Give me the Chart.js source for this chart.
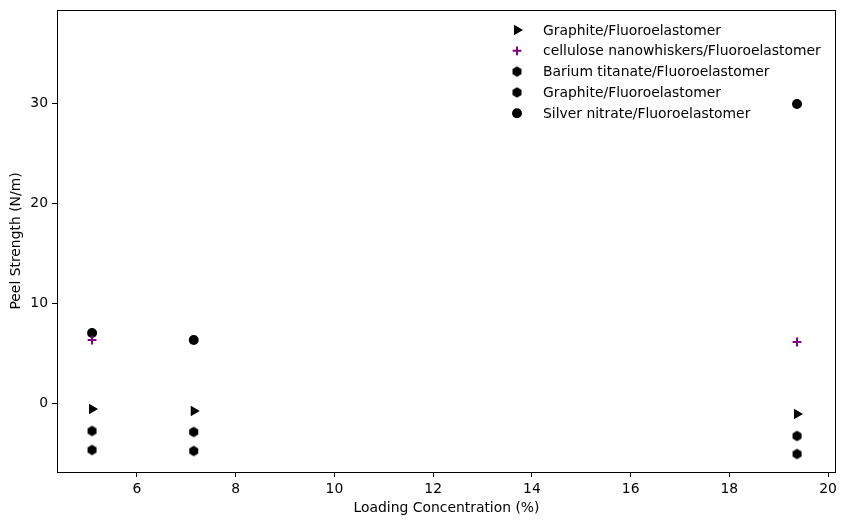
<!DOCTYPE html>
<html>
<head>
<meta charset="utf-8">
<script src="https://cdn.jsdelivr.net/npm/chart.js@4.4.0/dist/chart.umd.min.js"></script>
<style>
  html, body { margin: 0; padding: 0; background: #fff; }
  #wrap { width: 847px; height: 525px; }
</style>
</head>
<body>
<div id="wrap"><canvas id="chart"></canvas></div>
<script>
// values
const seriesNames = [
  "Graphite/Fluoroelastomer",
  "cellulose nanowhiskers/Fluoroelastomer",
  "Barium titanate/Fluoroelastomer",
  "Graphite/Fluoroelastomer",
  "Silver nitrate/Fluoroelastomer"
];
const graphiteTriX = [5.09, 7.15, 19.37];
const graphiteTriY = [-0.6, -0.8, -1.1];
const celluloseX = [5.09, 19.37];
const celluloseY = [6.3, 6.1];
const bariumX = [5.09, 7.15, 19.37];
const bariumY = [-2.8, -2.9, -3.3];
const graphiteHexX = [5.09, 7.15, 19.37];
const graphiteHexY = [-4.7, -4.8, -5.1];
const silverX = [5.09, 7.15, 19.37];
const silverY = [7.0, 6.3, 29.9];

const xTicks = [6, 8, 10, 12, 14, 16, 18, 20];
const yTicks = [0, 10, 20, 30];

const FONT = "'DejaVu Sans', sans-serif";
const FSIZE = 13.9;

function pts(xs, ys) {
  return xs.map((x, i) => ({ x: x, y: ys[i] }));
}

// hexagon marker (matplotlib 'h' style)
function hexMarker(r, color) {
  const c = document.createElement("canvas");
  const s = Math.ceil(r * 2 + 2);
  c.width = s; c.height = s;
  const g = c.getContext("2d");
  g.fillStyle = color;
  g.beginPath();
  for (let i = 0; i < 6; i++) {
    const a = -Math.PI / 2 + i * Math.PI / 3;
    const px = s / 2 + r * Math.cos(a);
    const py = s / 2 + r * Math.sin(a);
    if (i === 0) g.moveTo(px, py); else g.lineTo(px, py);
  }
  g.closePath();
  g.fill();
  return c;
}
const hexImg = hexMarker(5.2, "#000");

const datasets = [
  { label: seriesNames[0], data: pts(graphiteTriX, graphiteTriY), pointStyle: "triangle", rotation: 90,
    pointRadius: 6, backgroundColor: "#000", borderColor: "#000", borderWidth: 0 },
  { label: seriesNames[1], data: pts(celluloseX, celluloseY), pointStyle: "cross",
    pointRadius: 4.4, backgroundColor: "#800080", borderColor: "#800080", borderWidth: 2 },
  { label: seriesNames[2], data: pts(bariumX, bariumY), pointStyle: hexImg,
    pointRadius: 5, backgroundColor: "#000", borderColor: "#000" },
  { label: seriesNames[3], data: pts(graphiteHexX, graphiteHexY), pointStyle: hexImg,
    pointRadius: 5, backgroundColor: "#000", borderColor: "#000" },
  { label: seriesNames[4], data: pts(silverX, silverY), pointStyle: "circle",
    pointRadius: 5, backgroundColor: "#000", borderColor: "#000", borderWidth: 0 }
];

// frame around the plot + legend inside the plot area
const framePlugin = {
  id: "frame",
  afterDraw(chart) {
    const { ctx, chartArea: a } = chart;
    ctx.save();
    ctx.strokeStyle = "#000";
    ctx.lineWidth = 1;
    ctx.strokeRect(a.left + 0.5, a.top + 0.5, a.right - a.left - 1, a.bottom - a.top);
    const mx = 517, tx = 543, y0 = 30, dy = 20.8;
    chart.data.datasets.forEach((ds, i) => {
      const y = y0 + i * dy;
      ctx.fillStyle = ds.backgroundColor;
      ctx.strokeStyle = ds.borderColor;
      ctx.lineWidth = ds.borderWidth || 1;
      Chart.helpers.drawPoint(ctx, {
        pointStyle: ds.pointStyle, rotation: ds.rotation || 0, radius: ds.pointRadius, borderWidth: ds.borderWidth || 0
      }, mx, y);
      ctx.font = FSIZE + "px " + FONT;
      ctx.textBaseline = "middle";
      ctx.textAlign = "left";
      ctx.fillStyle = "#000";
      ctx.fillText(ds.label, tx, y + 1);
    });
    ctx.restore();
  }
};

new Chart(document.getElementById("chart"), {
  type: "scatter",
  data: { datasets },
  options: {
    responsive: true,
    maintainAspectRatio: false,
    animation: false,
    layout: { padding: { top: 10, right: 11, left: 0, bottom: 0 } },
    plugins: { legend: { display: false }, tooltip: { enabled: false } },
    scales: {
      x: {
        type: "linear",
        min: 4.38, max: 20.16,
        afterBuildTicks: s => { s.ticks = xTicks.map(v => ({ value: v })); },
        afterFit: s => { s.height = 53; s.paddingLeft = 0; s.paddingRight = 0; },
        grid: { display: true, drawOnChartArea: false, drawTicks: true, tickLength: 5, color: "#000" },
        border: { display: false },
        ticks: { color: "#000", font: { family: FONT, size: FSIZE }, padding: 4, maxRotation: 0 },
        title: { display: true, text: "Loading Concentration (%)", color: "#000",
                 font: { family: FONT, size: FSIZE }, padding: { top: 3, bottom: 8 } }
      },
      y: {
        type: "linear",
        min: -6.9, max: 39.3,
        afterBuildTicks: s => { s.ticks = yTicks.map(v => ({ value: v })); },
        afterFit: s => { s.width = 57; s.paddingTop = 0; s.paddingBottom = 0; },
        grid: { display: true, drawOnChartArea: false, drawTicks: true, tickLength: 5, color: "#000" },
        border: { display: false },
        ticks: { color: "#000", font: { family: FONT, size: FSIZE }, padding: 4 },
        title: { display: true, text: "Peel Strength (N/m)", color: "#000",
                 font: { family: FONT, size: FSIZE }, padding: { top: 8, bottom: 4 } }
      }
    }
  },
  plugins: [framePlugin]
});
</script>
</body>
</html>
